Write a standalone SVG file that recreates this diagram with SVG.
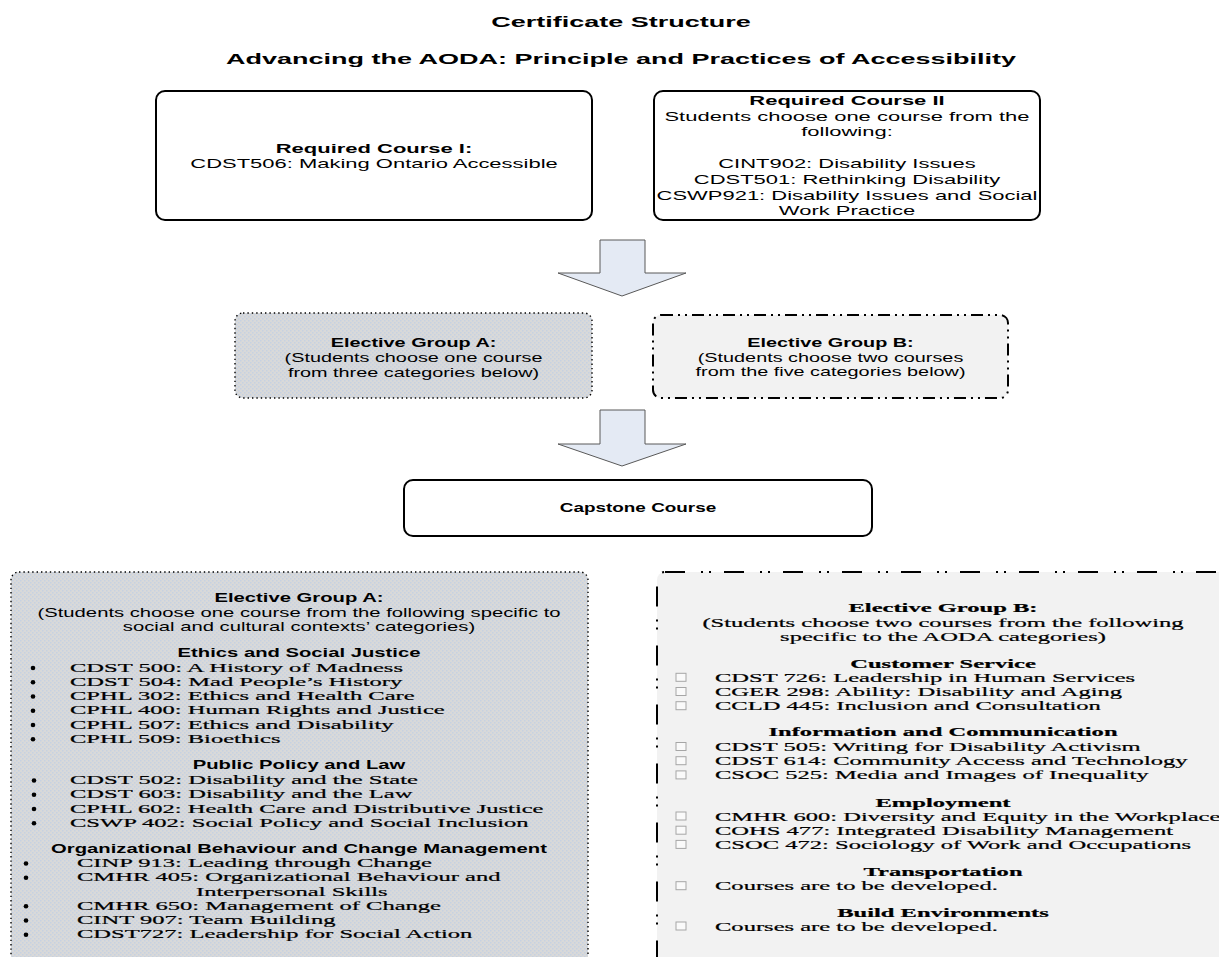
<svg xmlns="http://www.w3.org/2000/svg" width="1219" height="957" viewBox="0 0 1219 957">
<defs>
<pattern id="dots" width="4" height="4" patternUnits="userSpaceOnUse">
<rect width="4" height="4" fill="#D9D9D9"/>
<rect x="0" y="0" width="1.5" height="1.5" fill="#C6D1E2"/>
<rect x="2" y="2" width="1.5" height="1.5" fill="#C6D1E2"/>
</pattern>
<style>
.sans{font-family:'Liberation Sans',Arial,sans-serif;fill:#000}
.serif{font-family:'Liberation Serif','Times New Roman',serif;fill:#000;stroke:#000;stroke-width:0.22}
.b{font-weight:bold}
.mid{text-anchor:middle}
.solid{fill:#fff;stroke:#000;stroke-width:2}
.dotted{fill:url(#dots);stroke:#000;stroke-width:1.4;stroke-dasharray:1.4 3}
.dashdot{fill:#F2F2F2;stroke:#000;stroke-width:2}
.arrow{fill:#E4EAF4;stroke:#595959;stroke-width:1}
.bullet{fill:#000}
.chk{fill:#FAFAFA;stroke:#A6A6A6;stroke-width:1}
</style>
</defs>
<rect width="1219" height="957" fill="#fff"/>

<g id="title">
<g transform="translate(621 0) scale(1.8 1)">
<text class="sans b mid" x="0" y="27.3" font-size="15">Certificate Structure</text>
<text class="sans b mid" x="0" y="64.3" font-size="15">Advancing the AODA: Principle and Practices of Accessibility</text>
</g>
</g>

<g id="connectors">
<polygon class="arrow" points="600,240 645,240 645,273 686,273 622,296 558,273 600,273"/>
<polygon class="arrow" points="600,410 645,410 645,444 686,444 622,466 558,444 600,444"/>
</g>

<g id="required1">
<rect class="solid" x="156" y="91" width="436" height="129" rx="9"/>
<g transform="translate(374 0) scale(1.69 1)" font-size="13">
<text class="sans b mid" x="0" y="152.9">Required Course I:</text>
<text class="sans mid" x="0" y="167.9">CDST506: Making Ontario Accessible</text>
</g>
</g>

<g id="required2">
<rect class="solid" x="654" y="91" width="386" height="129" rx="9"/>
<g transform="translate(847 0) scale(1.69 1)" font-size="13">
<text class="sans b mid" x="0" y="104.6">Required Course II</text>
<text class="sans mid" x="0" y="120.6">Students choose one course from the</text>
<text class="sans mid" x="0" y="136.1">following:</text>
<text class="sans mid" x="0" y="167.9">CINT902: Disability Issues</text>
<text class="sans mid" x="0" y="183.6">CDST501: Rethinking Disability</text>
<text class="sans mid" x="0" y="199.6">CSWP921: Disability Issues and Social</text>
<text class="sans mid" x="0" y="215.4">Work Practice</text>
</g>
</g>

<g id="electiveA">
<rect class="dotted" x="235" y="313" width="357" height="85" rx="8"/>
<g transform="translate(413.5 0) scale(1.6 1)" font-size="12.4">
<text class="sans b mid" x="0" y="347.5">Elective Group A:</text>
<text class="sans mid" x="0" y="362.5">(Students choose one course</text>
<text class="sans mid" x="0" y="377.5">from three categories below)</text>
</g>
</g>

<g id="electiveB">
<rect class="dashdot" x="653" y="315" width="355" height="83" rx="8" stroke-dasharray="12 5 2 5 2 5"/>
<g transform="translate(830.5 0) scale(1.6 1)" font-size="12.4">
<text class="sans b mid" x="0" y="347.5">Elective Group B:</text>
<text class="sans mid" x="0" y="362">(Students choose two courses</text>
<text class="sans mid" x="0" y="376.5">from the five categories below)</text>
</g>
</g>

<g id="capstone">
<rect class="solid" x="404" y="480" width="468" height="56" rx="9"/>
<g transform="translate(638 0) scale(1.55 1)" font-size="12.2">
<text class="sans b mid" x="0" y="512.3">Capstone Course</text>
</g>
</g>

<g id="groupA-detail">
<rect class="dotted" x="11" y="572" width="577" height="400" rx="8"/>
<g transform="translate(299 0) scale(1.66 1)" font-size="12.2">
<text class="sans b mid" x="0" y="602.3">Elective Group A:</text>
<text class="sans mid" x="0" y="617">(Students choose one course from the following specific to</text>
<text class="sans mid" x="0" y="631">social and cultural contexts’ categories)</text>
<text class="sans b mid" x="0" y="657.3">Ethics and Social Justice</text>
<text class="sans b mid" x="0" y="769.3">Public Policy and Law</text>
<text class="sans b mid" x="0" y="852.6">Organizational Behaviour and Change Management</text>
</g>
<g transform="translate(70 0) scale(1.86 1)" font-size="13.2">
<text class="serif" x="0" y="671.6">CDST 500: A History of Madness</text>
<text class="serif" x="0" y="685.85">CDST 504: Mad People’s History</text>
<text class="serif" x="0" y="700.1">CPHL 302: Ethics and Health Care</text>
<text class="serif" x="0" y="714.35">CPHL 400: Human Rights and Justice</text>
<text class="serif" x="0" y="728.6">CPHL 507: Ethics and Disability</text>
<text class="serif" x="0" y="742.85">CPHL 509: Bioethics</text>
<text class="serif" x="0" y="784.1">CDST 502: Disability and the State</text>
<text class="serif" x="0" y="798.35">CDST 603: Disability and the Law</text>
<text class="serif" x="0" y="812.6">CPHL 602: Health Care and Distributive Justice</text>
<text class="serif" x="0" y="826.85">CSWP 402: Social Policy and Social Inclusion</text>
</g>
<g transform="translate(77 0) scale(1.86 1)" font-size="13.2">
<text class="serif" x="0" y="867.1">CINP 913: Leading through Change</text>
<text class="serif" x="0" y="881.35">CMHR 405: Organizational Behaviour and</text>
<text class="serif" x="64" y="895.6">Interpersonal Skills</text>
<text class="serif" x="0" y="909.85">CMHR 650: Management of Change</text>
<text class="serif" x="0" y="924.1">CINT 907: Team Building</text>
<text class="serif" x="0" y="938.35">CDST727: Leadership for Social Action</text>
</g>
<g class="bullet">
<circle cx="33" cy="668" r="2.3"/><circle cx="33" cy="682.25" r="2.3"/><circle cx="33" cy="696.5" r="2.3"/>
<circle cx="33" cy="710.75" r="2.3"/><circle cx="33" cy="725" r="2.3"/><circle cx="33" cy="739.25" r="2.3"/>
<circle cx="34" cy="780.5" r="2.3"/><circle cx="34" cy="794.75" r="2.3"/><circle cx="34" cy="809" r="2.3"/><circle cx="34" cy="823.25" r="2.3"/>
<circle cx="26" cy="863.5" r="2.3"/><circle cx="26" cy="877.75" r="2.3"/><circle cx="26" cy="906.25" r="2.3"/>
<circle cx="26" cy="920.5" r="2.3"/><circle cx="26" cy="934.75" r="2.3"/>
</g>
</g>

<g id="groupB-detail">
<rect class="dashdot" x="657" y="572" width="600" height="400" rx="8" stroke-width="2.2" stroke-dasharray="20 16 2 6 2 13"/>
<g transform="translate(943 0) scale(1.86 1)" font-size="13.2">
<text class="serif b mid" x="0" y="612.3">Elective Group B:</text>
<text class="serif mid" x="0" y="626.9">(Students choose two courses from the following</text>
<text class="serif mid" x="0" y="640.6">specific to the AODA categories)</text>
<text class="serif b mid" x="0" y="667.9">Customer Service</text>
<text class="serif b mid" x="0" y="736.3">Information and Communication</text>
<text class="serif b mid" x="0" y="806.9">Employment</text>
<text class="serif b mid" x="0" y="875.6">Transportation</text>
<text class="serif b mid" x="0" y="916.9">Build Environments</text>
</g>
<g transform="translate(715 0) scale(1.86 1)" font-size="13.2">
<text class="serif" x="0" y="681.9">CDST 726: Leadership in Human Services</text>
<text class="serif" x="0" y="696.1">CGER 298: Ability: Disability and Aging</text>
<text class="serif" x="0" y="710.3">CCLD 445: Inclusion and Consultation</text>
<text class="serif" x="0" y="751.1">CDST 505: Writing for Disability Activism</text>
<text class="serif" x="0" y="765.3">CDST 614: Community Access and Technology</text>
<text class="serif" x="0" y="779.5">CSOC 525: Media and Images of Inequality</text>
<text class="serif" x="0" y="820.6">CMHR 600: Diversity and Equity in the Workplace</text>
<text class="serif" x="0" y="834.8">COHS 477: Integrated Disability Management</text>
<text class="serif" x="0" y="849">CSOC 472: Sociology of Work and Occupations</text>
<text class="serif" x="0" y="890.3">Courses are to be developed.</text>
<text class="serif" x="0" y="930.6">Courses are to be developed.</text>
</g>
<g class="chk">
<rect x="676" y="673.3" width="10" height="8"/><rect x="676" y="687.5" width="10" height="8"/><rect x="676" y="701.7" width="10" height="8"/>
<rect x="676" y="742.5" width="10" height="8"/><rect x="676" y="756.7" width="10" height="8"/><rect x="676" y="770.9" width="10" height="8"/>
<rect x="676" y="812" width="10" height="8"/><rect x="676" y="826.2" width="10" height="8"/><rect x="676" y="840.4" width="10" height="8"/>
<rect x="676" y="881.7" width="10" height="8"/><rect x="676" y="922" width="10" height="8"/>
</g>
</g>
</svg>
